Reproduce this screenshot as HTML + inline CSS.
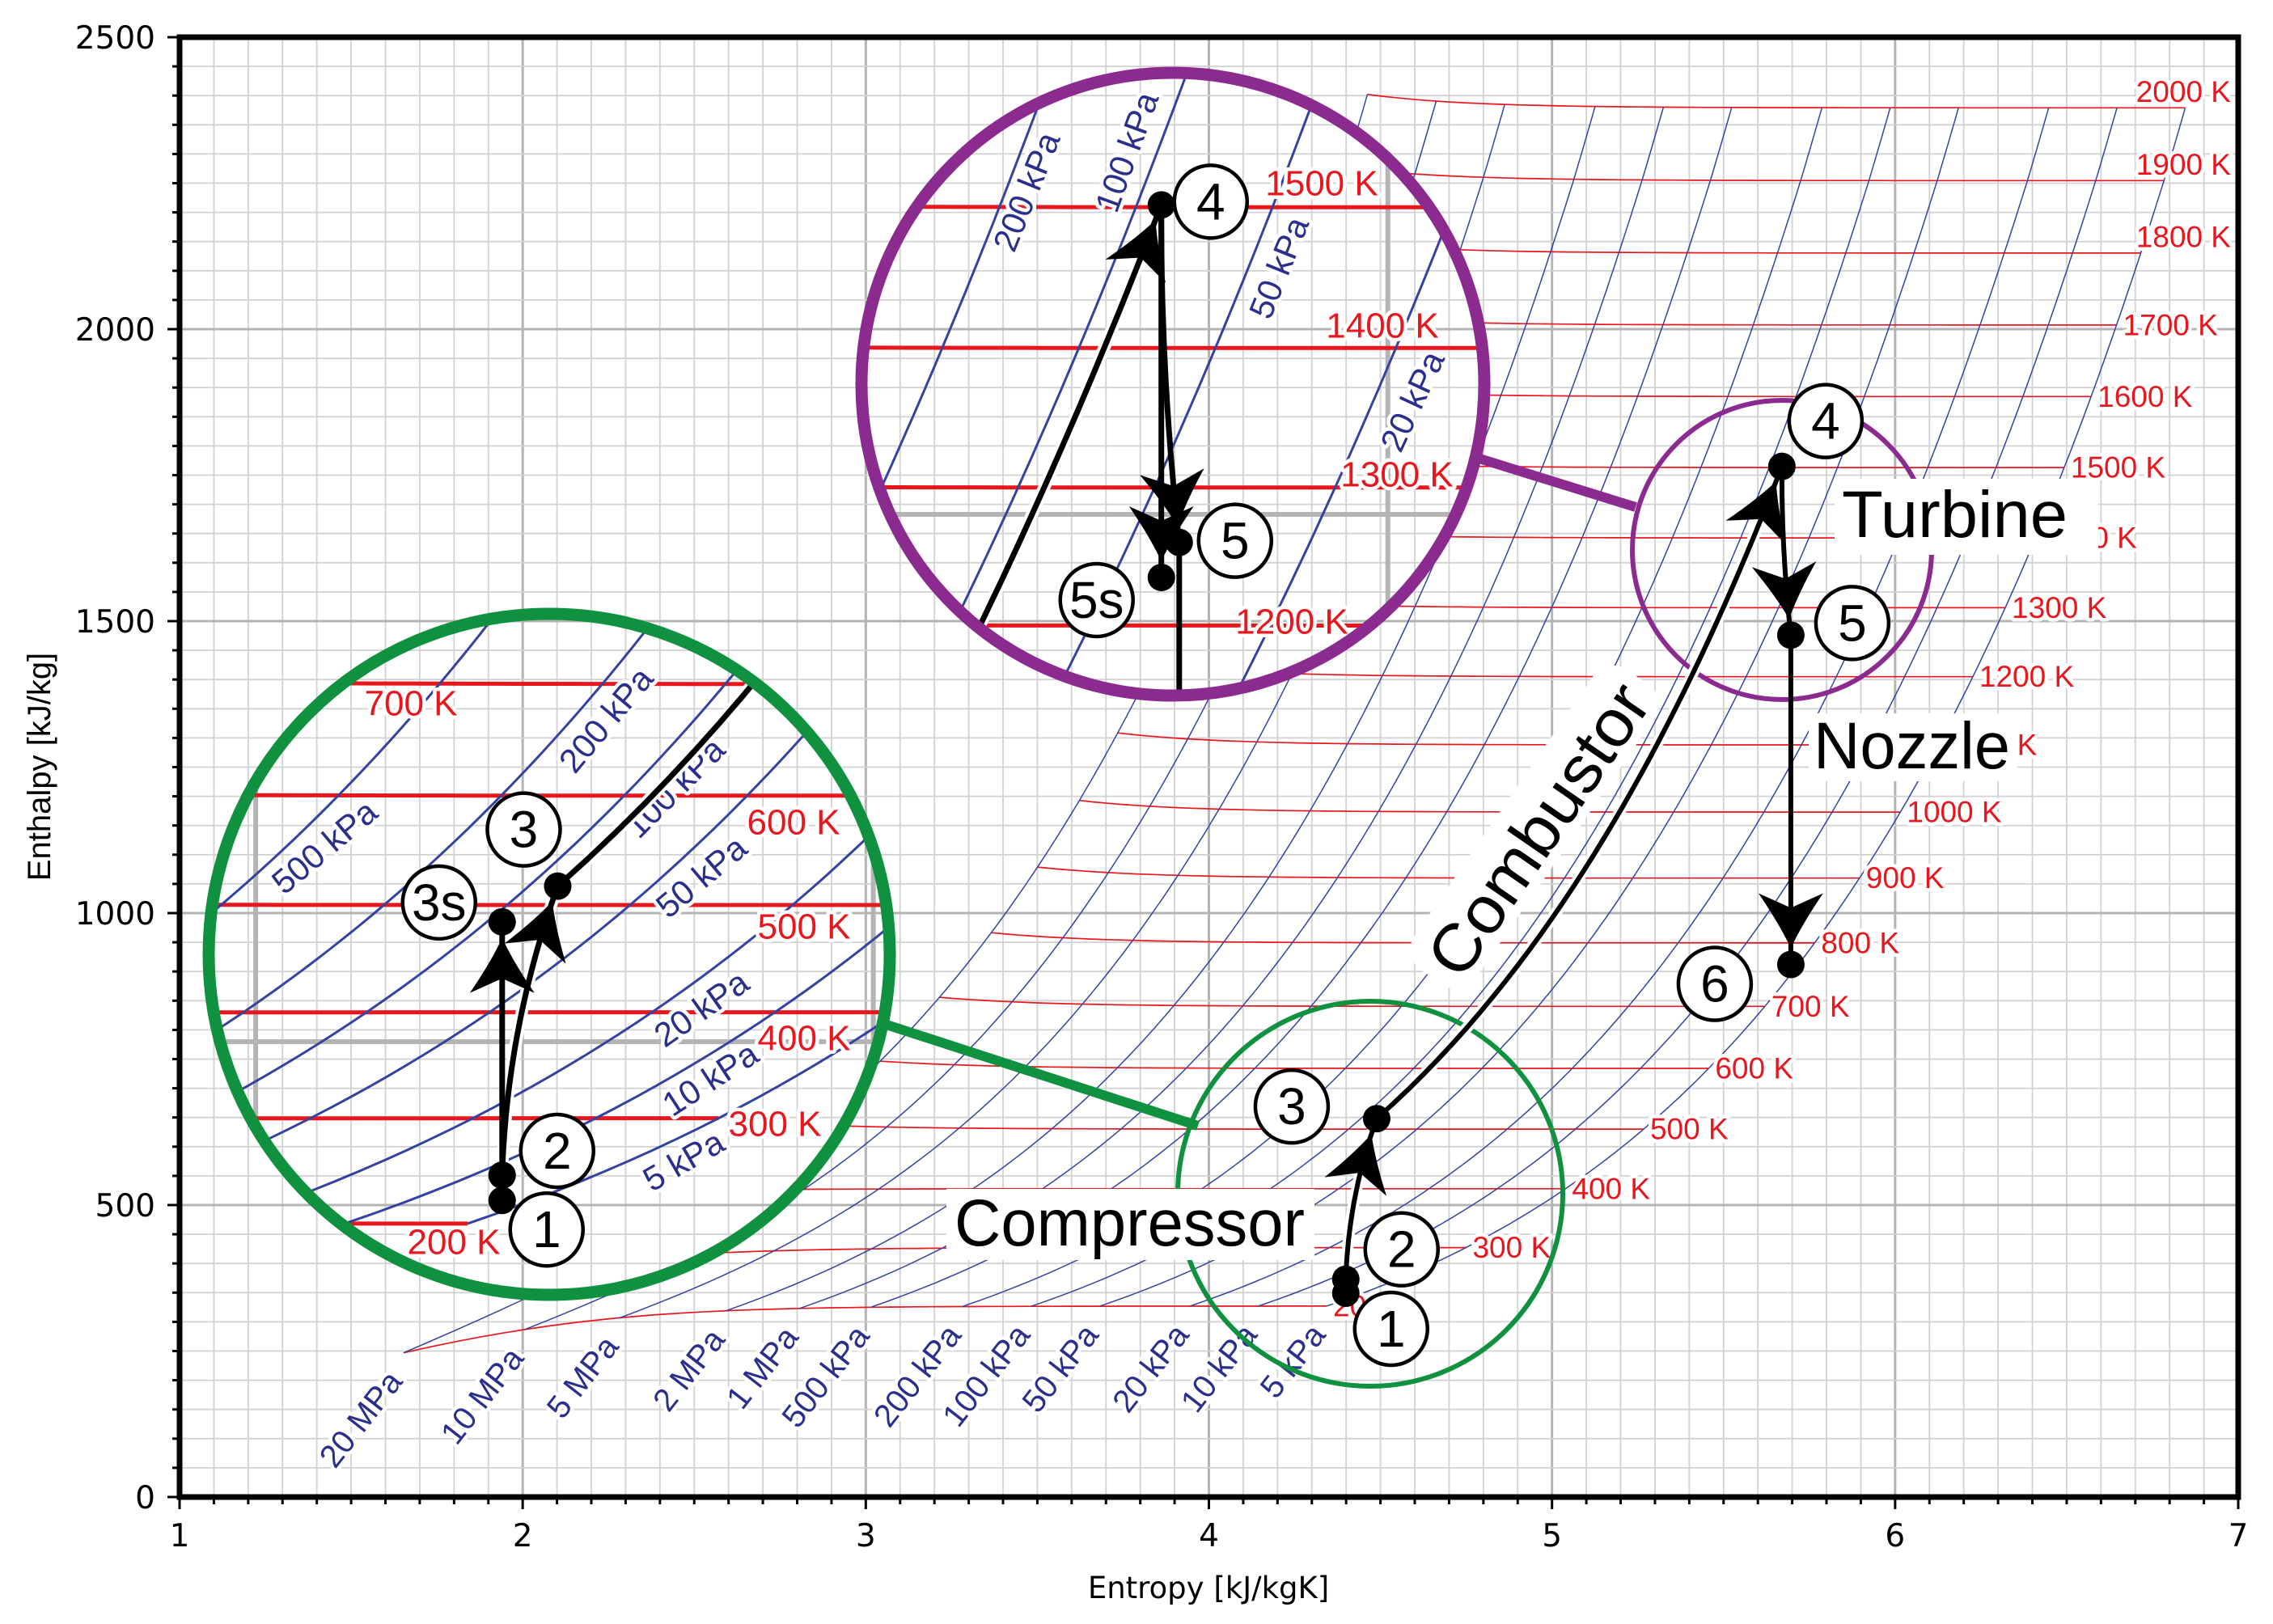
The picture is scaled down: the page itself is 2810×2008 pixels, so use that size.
<!DOCTYPE html>
<html><head><meta charset="utf-8"><title>h-s diagram</title>
<style>html,body{margin:0;padding:0;background:#fff;width:2810px;height:2008px;overflow:hidden}svg{display:block}</style></head>
<body>
<svg id="chart" xmlns="http://www.w3.org/2000/svg" width="2810" height="2008" viewBox="0 0 2810 2008" overflow="hidden">
<defs>
<clipPath id="plotClip"><rect x="222" y="46" width="2545" height="1805"/></clipPath>
<clipPath id="clipG"><circle cx="679" cy="1180" r="421"/></clipPath>
<clipPath id="clipP"><circle cx="1450" cy="475" r="385"/></clipPath>
</defs>
<rect x="0" y="0" width="2810" height="2008" fill="#fff"/>
<g id="main"></g>
<text x="1494" y="1976" font-family="DejaVu Sans, sans-serif" font-size="37" text-anchor="middle">Entropy [kJ/kgK]</text>
<text x="0" y="0" transform="translate(62,948) rotate(-90)" font-family="Liberation Sans Narrow, Liberation Sans, sans-serif" font-size="40" text-anchor="middle">Enthalpy [kJ/kg]</text>
</svg>
<script>
// ---- data (air tables) ----
const temps=[200,300,400,500,600,700,800,900,1000,1100,1200,1300,1400,1500,1600,1700,1800,1900,2000];
const hTab=[199.97,300.19,400.98,503.02,607.02,713.27,821.95,932.93,1046.04,1161.07,1277.79,1395.97,1515.42,1635.97,1757.57,1880.1,2003.3,2127.4,2252.1];
const s0Tab=[1.29559,1.70203,1.99194,2.21952,2.40902,2.57277,2.71787,2.84856,2.96770,3.07732,3.17888,3.27345,3.36200,3.44516,3.52364,3.59770,3.66835,3.73594,3.79783];
const pressures=[20000,10000,5000,2000,1000,500,200,100,50,20,10,5];
const pLabels=['20 MPa','10 MPa','5 MPa','2 MPa','1 MPa','500 kPa','200 kPa','100 kPa','50 kPa','20 kPa','10 kPa','5 kPa'];
const tLabels=temps.map(t=>t+' K');
const stateNames=['1','2','3s','3','4','5s','5','6'];
const stateS=[4.399,4.399,4.399,4.489,5.670,5.670,5.696,5.696];
const stateH=[349,373,614,648,1765,1446,1476,912];
const xTicks=[1,2,3,4,5,6,7];
const yTicks=[0,500,1000,1500,2000,2500];

const NS='http://www.w3.org/2000/svg';
function mk(tag,attrs,parent){const e=document.createElementNS(NS,tag);for(const k in attrs)e.setAttribute(k,attrs[k]);parent.appendChild(e);return e;}
const X=s=>222+(s-1)*424.17;
const Y=h=>1851-h*0.722;
function idx(T){let i=0;while(i<temps.length-2&&T>temps[i+1])i++;return i;}
function hAt(T){const i=idx(T);const f=(T-temps[i])/(temps[i+1]-temps[i]);return hTab[i]+f*(hTab[i+1]-hTab[i]);}
function s0At(T){const i=idx(T);const f=(Math.log(T)-Math.log(temps[i]))/(Math.log(temps[i+1])-Math.log(temps[i]));return s0Tab[i]+f*(s0Tab[i+1]-s0Tab[i]);}
function sOf(T,P){return s0At(T)-0.287*Math.log(P/101.325)+2.184-0.0155*(P/1000)*Math.pow(200/T,2);}
function hOf(T,P){return hAt(T)+127+(P/1000)*(1.2-5.2*Math.pow(200/T,2));}
function invT(h){const v=h-127;let i=0;while(i<hTab.length-2&&v>hTab[i+1])i++;return temps[i]+(v-hTab[i])/(hTab[i+1]-hTab[i])*(temps[i+1]-temps[i]);}
function isobarPts(P){const a=[];for(let T=temps[0];T<=temps[temps.length-1]+0.01;T+=10)a.push([X(sOf(T,P)),Y(hOf(T,P))]);return a;}
function isothermPts(T){const a=[];const p0=Math.log(pressures[0]),p1=Math.log(pressures[pressures.length-1]);for(let i=0;i<=60;i++){const P=Math.exp(p0+(p1-p0)*i/60);a.push([X(sOf(T,P)),Y(hOf(T,P))]);}return a;}
const ptsStr=a=>a.map(q=>q[0].toFixed(1)+','+q[1].toFixed(1)).join(' ');
const ID=p=>p;
const FULL={x0:-1e9,x1:1e9,y0:-1e9,y1:1e9};
// split polyline into runs inside bounds (keeps one neighbour point on each side)
function runs(pts,b){const inside=p=>p[0]>=b.x0&&p[0]<=b.x1&&p[1]>=b.y0&&p[1]<=b.y1;const out=[];let cur=[];
  for(let i=0;i<pts.length;i++){const ok=inside(pts[i])||(i>0&&inside(pts[i-1]))||(i<pts.length-1&&inside(pts[i+1]));
    if(ok)cur.push(pts[i]);else if(cur.length){if(cur.length>1)out.push(cur);cur=[];}}
  if(cur.length>1)out.push(cur);return out;}

const main=document.getElementById('main');

function drawGrid(g,b){
  for(let i=1;i<60;i++){const s=1+i/10;const maj=(i%10===0);const x=X(s);if(x<b.x0||x>b.x1)continue;
    const l=mk('line',{x1:x,x2:x,y1:Math.max(46,b.y0),y2:Math.min(1851,b.y1),stroke:maj?'#b4b4b4':'#d2d2d2','stroke-width':maj?3:1.8},g);
    
    }
  for(let i=1;i<50;i++){const h=i*50;const maj=(i%10===0);const y=Y(h);if(y<b.y0||y>b.y1)continue;
    const l=mk('line',{x1:Math.max(222,b.x0),x2:Math.min(2767,b.x1),y1:y,y2:y,stroke:maj?'#b4b4b4':'#d2d2d2','stroke-width':maj?3:1.8},g);
    
    }
}
function drawLines(g,tf,redW,blueW,b){
  temps.forEach(T=>{runs(isothermPts(T).map(tf),b).forEach(r=>{const l=mk('polyline',{points:ptsStr(r),fill:'none',stroke:'#e8161d','stroke-width':redW},g);
    
    });});
  pressures.forEach((P,i)=>{runs(isobarPts(P).map(tf),b).forEach(r=>{const l=mk('polyline',{points:ptsStr(r),fill:'none',stroke:'#3443a0','stroke-width':blueW},g);
    
    });});
}
function label(g,x,y,txt,color,size,rot,anchor,name){
  const t=mk('text',{x:0,y:0,transform:`translate(${x},${y}) rotate(${rot})`,fill:color,'font-size':size,'font-family':'Liberation Sans, sans-serif','text-anchor':anchor,'dominant-baseline':'central',stroke:'#fff','stroke-width':9,'stroke-linejoin':'round','paint-order':'stroke'},g);
  t.textContent=txt;
  
  
  return t;}

// ---- main chart ----
const gPlot=mk('g',{'clip-path':'url(#plotClip)'},main);


drawGrid(gPlot,FULL);
drawLines(gPlot,ID,1.7,1.5,FULL);
temps.forEach((T,i)=>{const P=pressures[pressures.length-1];const lx=X(sOf(T,P)),ly=Y(hOf(T,P));
  if(T>=1800){label(main,2758,ly-20,tLabels[i],'#e8161d',37,0,'end','isotherm-label');}
  else{label(main,lx+8,ly,tLabels[i],'#e8161d',37,0,'start','isotherm-label');}});
pressures.forEach((P,i)=>{const T=temps[0];const x=X(sOf(T,P))-10,y=Y(hOf(T,P))+28;
  label(main,x,y,pLabels[i],'#2b2f8c',40,-52,'end','isobar-label');});

// axes
const ax=mk('g',{},main);


for(let i=0;i<=60;i++){const s=1+i/10;const maj=i%10===0;
  const l=mk('line',{x1:X(s),x2:X(s),y1:1851,y2:1851+(maj?15:9),stroke:'#000','stroke-width':3},ax);
  
  }
for(let i=0;i<=50;i++){const h=i*50;const maj=i%10===0;
  const l=mk('line',{x1:222-(maj?15:9),x2:222,y1:Y(h),y2:Y(h),stroke:'#000','stroke-width':3},ax);
  
  }
xTicks.forEach(v=>{const t=mk('text',{x:X(v),y:1912,'font-family':'DejaVu Sans, sans-serif','font-size':39,'text-anchor':'middle'},ax);t.textContent=String(v);
  
  });
yTicks.forEach(v=>{const t=mk('text',{x:192,y:Y(v)+14,'font-family':'DejaVu Sans, sans-serif','font-size':39,'text-anchor':'end'},ax);t.textContent=String(v);
  
  });
const frame=mk('rect',{x:222,y:46,width:2545,height:1805,fill:'none',stroke:'#000','stroke-width':7},ax);



// ---- cycle geometry ----
const SP=stateNames.map((n,i)=>[X(stateS[i]),Y(stateH[i])]);
const st=n=>SP[stateNames.indexOf(n)];
function quad(a,b,bulge){const mx=(a[0]+b[0])/2,my=(a[1]+b[1])/2;const dx=b[0]-a[0],dy=b[1]-a[1];const L=Math.hypot(dx,dy);const cx=mx+(-dy/L)*bulge*2,cy=my+(dx/L)*bulge*2;const r=[];for(let i=0;i<=30;i++){const t=i/30;r.push([(1-t)*(1-t)*a[0]+2*t*(1-t)*cx+t*t*b[0],(1-t)*(1-t)*a[1]+2*t*(1-t)*cy+t*t*b[1]]);}return r;}
function lineSeg(a,b){const r=[];for(let i=0;i<=20;i++){const t=i/20;r.push([a[0]+(b[0]-a[0])*t,a[1]+(b[1]-a[1])*t]);}return r;}
function combustor(){const i3=stateNames.indexOf('3'),i4=stateNames.indexOf('4');const T3=invT(stateH[i3]),T4=invT(stateH[i4]);const P=86;const r=[];
  const sA=sOf(T3,P),hA=hOf(T3,P),sB=sOf(T4,P),hB=hOf(T4,P);
  for(let i=0;i<=40;i++){const t=i/40;const T=T3+(T4-T3)*t;const s=sOf(T,P)+(stateS[i3]-sA)*(1-t)+(stateS[i4]-sB)*t;const h=hOf(T,P)+(stateH[i3]-hA)*(1-t)+(stateH[i4]-hB)*t;r.push([X(s),Y(h)]);}return r;}
const segs={
  s12:{pts:lineSeg(st('1'),st('2')),arrow:false},
  s23:{pts:quad(st('2'),st('3'),-8),arrow:true},
  s23s:{pts:lineSeg(st('2'),st('3s')),arrow:true},
  s34:{pts:combustor(),arrow:true},
  s45:{pts:quad(st('4'),st('5'),3),arrow:true},
  s45s:{pts:lineSeg(st('4'),st('5s')),arrow:true},
  s56:{pts:lineSeg(st('5'),st('6')),arrow:true}
};
function backPoint(pts,d){let acc=0;for(let i=pts.length-1;i>0;i--){const a=pts[i],b=pts[i-1];const L=Math.hypot(a[0]-b[0],a[1]-b[1]);if(acc+L>=d){const f=(d-acc)/L;return [a[0]+(b[0]-a[0])*f,a[1]+(b[1]-a[1])*f];}acc+=L;}return pts[0];}
function drawArrow(g,pts){const tip=backPoint(pts,20);const bk=backPoint(pts,50);const ang=Math.atan2(tip[1]-bk[1],tip[0]-bk[0])*180/Math.PI;
  const a=mk('path',{d:'M0,0 Q-30,-14 -68,-40 L-50,0 L-68,40 Q-30,14 0,0 Z',fill:'#000',transform:`translate(${tip[0].toFixed(1)},${tip[1].toFixed(1)}) rotate(${ang.toFixed(1)})`},g);
  
  }
const inB=(p,b)=>p[0]>=b.x0&&p[0]<=b.x1&&p[1]>=b.y0&&p[1]<=b.y1;
function drawCycle(g,tf,names,dots,w,b){
  names.forEach(k=>{const all=segs[k].pts.map(tf);const end=all[all.length-1];
    runs(all,b).forEach(pts=>{
    if(k==='s34'||k==='s23'){const hl=mk('polyline',{points:ptsStr(pts),fill:'none',stroke:'#fff','stroke-width':w+8,'stroke-linecap':'round'},g);
      
      }
    const l=mk('polyline',{points:ptsStr(pts),fill:'none',stroke:'#000','stroke-width':w,'stroke-linejoin':'round'},g);
    
    });
    if(segs[k].arrow&&inB(end,b))drawArrow(g,all);});
  dots.forEach(n=>{const p=tf(st(n));const c=mk('circle',{cx:p[0],cy:p[1],r:17,fill:'#000'},g);
    
    });
}
function stateLabel(g,x,y,txt){const c=mk('circle',{cx:x,cy:y,r:45,fill:'#fff',stroke:'#000','stroke-width':4.5},g);
  
  
  const t=mk('text',{x:x,y:y+22,'font-family':'Liberation Sans Narrow, Liberation Sans, sans-serif','font-size':64,'text-anchor':'middle'},g);t.textContent=txt;
  
  }

// small magnifier circles + connectors
const sg=mk('circle',{cx:1694,cy:1476,r:238,fill:'none',stroke:'#10913f','stroke-width':6},main);


const sp=mk('circle',{cx:2203,cy:680,r:185,fill:'none',stroke:'#8b2a8f','stroke-width':6},main);


const cg=mk('line',{x1:1093,y1:1266,x2:1481,y2:1392,stroke:'#10913f','stroke-width':12},main);


const cp=mk('line',{x1:1829,y1:567,x2:2022,y2:627,stroke:'#8b2a8f','stroke-width':12},main);



// text boxes
function boxText(x,y,w,h,tx,base,len,txt,name){const r=mk('rect',{x:x,y:y,width:w,height:h,fill:'#fff'},main);
  
  
  const t=mk('text',{x:tx,y:base,'font-family':'Liberation Sans Narrow, Liberation Sans, sans-serif','font-size':82,textLength:len,lengthAdjust:'spacingAndGlyphs'},main);t.textContent=txt;
  
  }
boxText(1170,1470,455,88,1180,1540,433,'Compressor','compressor-label');
boxText(2268,592,326,94,2277,664,279,'Turbine','turbine-label');
boxText(2236,882,258,84,2242,950,243,'Nozzle','nozzle-label');
const cb=mk('g',{transform:'translate(1902,1026) rotate(-55.5)'},main);


const cbr=mk('rect',{x:-225,y:-52,width:450,height:92,rx:30,fill:'#fff'},cb);


const cbt=mk('text',{x:0,y:28,'text-anchor':'middle','font-family':'Liberation Sans Narrow, Liberation Sans, sans-serif','font-size':82,textLength:418,lengthAdjust:'spacingAndGlyphs'},cb);cbt.textContent='Combustor';



// main cycle
drawCycle(main,ID,['s12','s23','s34','s45','s56'],['1','2','3','4','5','6'],6,FULL);
[['1',56,44],['2',69,-37],['3',-105,-15],['4',54,-56],['5',76,-15],['6',-94,24]].forEach(o=>{const p=st(o[0]);stateLabel(main,p[0]+o[1],p[1]+o[2],o[0]);});

// ---- insets ----
function inset(clipId,cx,cy,r,k,bx,by,color,segNames,dots,labs,tl,pl,name){
  const tf=p=>[k*p[0]+bx,k*p[1]+by];
  const b={x0:cx-r-10,x1:cx+r+10,y0:cy-r-10,y1:cy+r+10};
  const g=mk('g',{'clip-path':`url(#${clipId})`},main);
  
  
  const bg=mk('circle',{cx:cx,cy:cy,r:r,fill:'#fff'},g);
  
  
  drawGrid(g,b);
  xTicks.forEach(v=>{const x=k*X(v)+bx;if(x<b.x0||x>b.x1)return;const l=mk('line',{x1:x,x2:x,y1:cy-r,y2:cy+r,stroke:'#b4b4b4','stroke-width':6},g);
    
    });
  yTicks.forEach(v=>{const y=k*Y(v)+by;if(y<b.y0||y>b.y1)return;const l=mk('line',{x1:cx-r,x2:cx+r,y1:y,y2:y,stroke:'#b4b4b4','stroke-width':6},g);
    
    });
  drawLines(g,tf,5,3,b);
  tl.forEach(o=>label(g,o[1],o[2],o[0],'#e8161d',44,0,'middle','inset-isotherm-label'));
  pl.forEach(o=>label(g,o[1],o[2],o[0],'#2b2f8c',42,o[3],'middle','inset-isobar-label'));
  drawCycle(g,tf,segNames,dots,7,b);
  labs.forEach(o=>{const p=tf(st(o[0]));stateLabel(g,p[0]+o[1],p[1]+o[2],o[0]);});
  const ring=mk('circle',{cx:cx,cy:cy,r:r,fill:'none',stroke:color,'stroke-width':15},main);
  
  
}
inset('clipG',679,1180,421,1.8,-2374,-1394,'#10913f',['s12','s23','s23s','s34'],['1','2','3s','3'],
  [['1',55,36],['2',68,-30],['3s',-78,-24],['3',-42,-70]],
  [['700 K',508,870],['600 K',981,1017],['500 K',994,1146],['400 K',994,1284],['300 K',958,1390],['200 K',561,1536]],
  [['500 kPa',401,1047,-40],['200 kPa',749,890,-50],['100 kPa',834,974,-45],['50 kPa',867,1084,-40],['20 kPa',867,1247,-35],['10 kPa',878,1334,-33],['5 kPa',845,1435,-30]],
  'compressor-inset');
inset('clipP',1450,475,385,2.0,-2970,-900,'#8b2a8f',['s34','s45','s45s','s56'],['4','5s','5'],
  [['4',61,-4],['5',69,-2],['5s',-80,28]],
  [['1500 K',1634,227],['1400 K',1709,403],['1300 K',1727,587],['1200 K',1597,769]],
  [['200 kPa',1269,237,-68],['100 kPa',1393,188,-70],['50 kPa',1581,331,-68],['20 kPa',1746,496,-65]],
  'turbine-inset');
</script>
</body></html>
